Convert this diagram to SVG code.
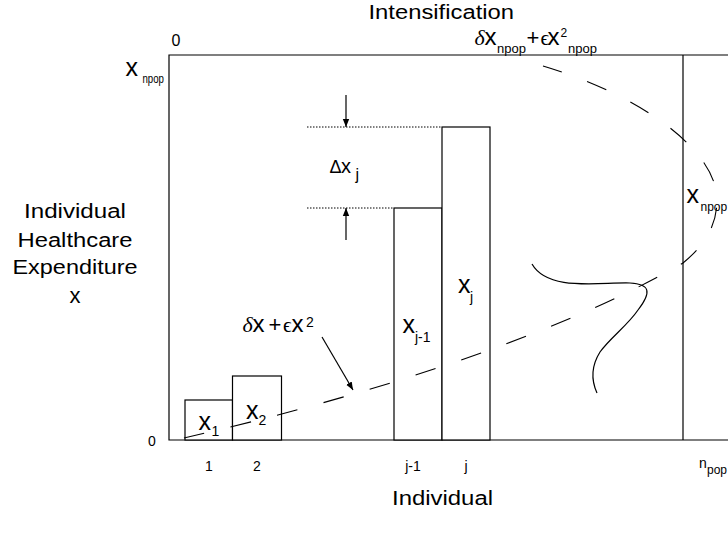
<svg xmlns="http://www.w3.org/2000/svg" width="728" height="543" viewBox="0 0 728 543">
<defs>
<marker id="ah" viewBox="0 0 10 10" refX="10" refY="5" markerWidth="8" markerHeight="8" markerUnits="userSpaceOnUse" orient="auto">
<path d="M0,1 L10,5 L0,9 Z" fill="#000"/>
</marker>
<style>
text{font-family:"Liberation Sans",Arial,sans-serif;fill:#000}
.lbl{font-size:20px}
.tick{font-size:14px}
.var{font-size:25px}
.sub{font-size:14px}
.ssub{font-size:12px}
.gr{font-family:"Liberation Serif","DejaVu Serif",serif;font-style:italic;font-size:22px}
.ep{font-family:"Liberation Serif","DejaVu Serif",serif;font-size:21px}
.fx{font-size:24px}
.pl{font-size:22px}
.ln{fill:none;stroke:#000;stroke-width:1.2}
.bar{fill:#fff;stroke:#000;stroke-width:1.2}
.dot{fill:none;stroke:#000;stroke-width:1;stroke-dasharray:1.5 1.5}
.dash{fill:none;stroke:#000;stroke-width:1.1;stroke-dasharray:21 27}
</style>
</defs>
<rect width="728" height="543" fill="#fff"/>

<g id="frame">
<path class="ln" d="M740,55 H169 V440 H740"/>
<path class="ln" d="M683,55 V440"/>
</g>

<g id="bar1"><rect class="bar" x="185" y="400" width="47.5" height="40"/>
<text class="var" x="198.5" y="430">x</text><text class="sub" x="211.5" y="436">1</text></g>
<g id="bar2"><rect class="bar" x="232.5" y="376" width="49" height="64"/>
<text class="var" x="246" y="418.5">x</text><text class="sub" x="258.5" y="424.5">2</text></g>
<g id="barj1"><rect class="bar" x="394" y="208" width="48" height="232"/>
<text class="var" x="402.5" y="333">x</text><text class="sub" x="415" y="341.5">j-1</text></g>
<g id="barj"><rect class="bar" x="442" y="127" width="48" height="313"/>
<text class="var" x="458" y="293">x</text><text class="sub" x="470" y="301.5">j</text></g>

<g id="ticks">
<text class="tick" x="152" y="446" text-anchor="middle">0</text>
<text class="tick" x="176" y="46" text-anchor="middle" style="font-size:16px">0</text>
<text class="tick" x="209" y="471" text-anchor="middle">1</text>
<text class="tick" x="257" y="471" text-anchor="middle">2</text>
<text class="tick" x="413" y="471" text-anchor="middle">j-1</text>
<text class="tick" x="466" y="471" text-anchor="middle">j</text>
<text class="tick" x="699" y="468">n</text><text class="ssub" x="707" y="473.5">pop</text>
</g>

<g id="ylabel">
<text class="lbl" x="24" y="218" textLength="102" lengthAdjust="spacingAndGlyphs">Individual</text>
<text class="lbl" x="17.5" y="246.5" textLength="115" lengthAdjust="spacingAndGlyphs">Healthcare</text>
<text class="lbl" x="12.5" y="273.5" textLength="125" lengthAdjust="spacingAndGlyphs">Expenditure</text>
<text class="lbl" x="75" y="303" text-anchor="middle" style="font-size:22px">x</text>
</g>
<g id="xlabel"><text class="lbl" x="392" y="505" textLength="101" lengthAdjust="spacingAndGlyphs">Individual</text></g>
<g id="title"><text class="lbl" x="368.5" y="19" textLength="145.5" lengthAdjust="spacingAndGlyphs">Intensification</text></g>

<g id="xmax-left"><text class="var" x="125.5" y="76">x</text><text class="ssub" x="142.5" y="82.5" textLength="21.5" lengthAdjust="spacingAndGlyphs">npop</text></g>
<g id="xmax-right"><text class="var" x="686.5" y="203">x</text><text class="ssub" x="700.5" y="211">npop</text></g>

<g id="formula-top">
<text class="gr" x="474.5" y="45">δ</text>
<text class="fx" x="484.5" y="45">x</text>
<text class="ssub" x="497" y="53" style="font-size:13px">npop</text>
<text class="pl" x="526.5" y="45">+</text>
<text class="ep" x="540.5" y="45">ϵ</text>
<text class="fx" x="547.5" y="45">x</text>
<text class="ssub" x="560.5" y="37">2</text>
<text class="ssub" x="568" y="53" style="font-size:13px">npop</text>
</g>

<g id="formula-low">
<text class="gr" x="242.5" y="332">δ</text>
<text class="fx" x="252.5" y="332">x</text>
<text class="pl" x="268.5" y="332">+</text>
<text class="ep" x="283" y="332">ϵ</text>
<text class="fx" x="291.5" y="332">x</text>
<text class="sub" x="306" y="327">2</text>
</g>

<g id="delta">
<text x="329.5" y="173" style="font-size:18px">Δ</text><text x="341" y="173" style="font-size:20px">x</text><text x="355.5" y="180" style="font-size:16px">j</text>
</g>

<g id="connectors">
<path class="dot" d="M307,127 H442"/>
<path class="dot" d="M307,208 H394"/>
<path class="ln" d="M346,95 V127" marker-end="url(#ah)"/>
<path class="ln" d="M346,240 V208" marker-end="url(#ah)"/>
<path class="ln" d="M322,337 L353,390" marker-end="url(#ah)"/>
<path class="dash" d="M184,438 C350,400 550,340 683,263 C705,245 717,225 717,200 C717,150 640,95 543,66"/>
<path class="ln" d="M532,264 C548,292 600,282 630,283 C650,284 652,292 638,310 C628,325 610,338 600,352 C590,368 592,382 597,393"/>
</g>
</svg>
